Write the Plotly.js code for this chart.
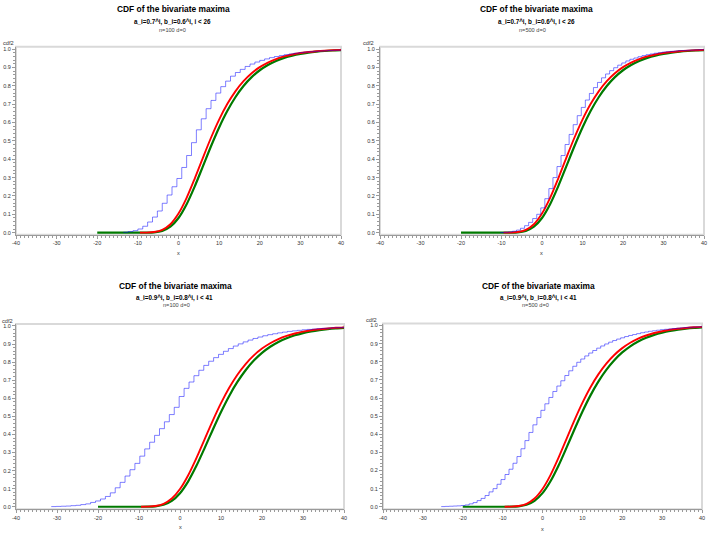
<!DOCTYPE html>
<html>
<head>
<meta charset="utf-8">
<script src="https://cdn.plot.ly/plotly-3.0.1.min.js"></script>
<style>html,body{margin:0;padding:0;background:#fff;}#chart{width:708px;height:533px;}</style>
</head>
<body>
<div id="chart"></div>
<script>
// ---------- data ----------
// top panels: a_i=0.7^i, b_i=0.6^i
const topGreenX = [-20,-18,-16,-14,-12,-10,-8,-6,-4,-2,0,2,4,6,8,10,12,14,16,18,20,22,24,26,28,30,32,34,36,38,40];
const topGreenY = [0,0,0,0,0,0,0.0002,0.0019,0.0099,0.0329,0.080,0.155,0.252,0.361,0.4705,0.5728,0.6623,0.7374,0.7984,0.8467,0.8843,0.9131,0.9349,0.9515,0.9639,0.9732,0.9801,0.9853,0.9891,0.9919,0.9940];
const topRedX = [-9.5,-8,-6,-4,-2,0,2,4,6,8,10,12,14,16,18,20,22,24,26,28,30,32,34,36,38,40];
const topRedY = [0.0001,0.0004,0.0034,0.0153,0.0462,0.1043,0.1898,0.2948,0.4074,0.5168,0.6155,0.7000,0.7694,0.8247,0.8679,0.9011,0.9263,0.9452,0.9594,0.9700,0.9779,0.9837,0.9880,0.9911,0.9935,0.9952];
// n=100 step curve (top left)
const tlBlueX = [-13.6,-12.4,-11.2,-10.0,-8.8,-7.6,-6.4,-5.2,-4.0,-2.8,-1.6,-0.4,0.8,2.0,3.2,4.4,5.6,6.8,8.0,9.2,10.4,11.6,12.8,14.0,15.2,16.4,17.6,18.8,20.0,21.2,22.4,23.6,24.8,26.0,27.2,28.4,29.6,30.8,32.0,33.2,34.4,35.6,36.8,38.0,39.2,40];
const tlBlueY = [0.002,0.006,0.011,0.02,0.035,0.058,0.085,0.118,0.16,0.205,0.25,0.295,0.355,0.42,0.49,0.56,0.62,0.675,0.72,0.76,0.795,0.825,0.852,0.872,0.889,0.905,0.918,0.929,0.938,0.946,0.953,0.959,0.964,0.969,0.973,0.977,0.98,0.983,0.985,0.987,0.989,0.99,0.992,0.993,0.994,0.994];
// n=500 step curve (top right)
const trBlueX = [-10.3,-9.3,-8.3,-7.3,-6.3,-5.3,-4.3,-3.3,-2.3,-1.3,-0.3,0.7,1.7,2.7,3.7,4.7,5.7,6.7,7.7,8.7,9.7,10.7,11.7,12.7,13.7,14.7,15.7,16.7,17.7,18.7,19.7,20.7,21.7,22.7,23.7,24.7,25.7,26.7,27.7,28.7,29.7,30.7,31.7,32.7,33.7,34.7,35.7,36.7,37.7,38.7,39.7,40];
const trBlueY = [0.001,0.002,0.004,0.008,0.014,0.024,0.038,0.056,0.077,0.1,0.135,0.185,0.24,0.3,0.36,0.42,0.48,0.535,0.588,0.637,0.682,0.722,0.758,0.79,0.818,0.843,0.864,0.882,0.898,0.912,0.924,0.935,0.944,0.951,0.958,0.964,0.969,0.973,0.977,0.98,0.983,0.985,0.987,0.989,0.991,0.992,0.993,0.994,0.995,0.996,0.996,0.996];

// bottom panels: a_i=0.9^i, b_i=0.8^i
const botGreenX = [-20,-18,-16,-14,-12,-10,-8,-6,-4,-2,0,2,4,6,8,10,12,14,16,18,20,22,24,26,28,30,32,34,36,38,40];
const botGreenY = [0,0,0,0,0,0.00003,0.0004,0.0026,0.0110,0.0328,0.0751,0.1407,0.2263,0.3246,0.4264,0.5243,0.6132,0.6904,0.7553,0.8086,0.8513,0.8852,0.9117,0.9324,0.9484,0.9607,0.9701,0.9772,0.9827,0.9869,0.9900];
const botRedX = [-9.5,-8,-6,-4,-2,0,2,4,6,8,10,12,14,16,18,20,22,24,26,28,30,32,34,36,38,40];
const botRedY = [0.0001,0.0007,0.0042,0.0164,0.0454,0.0980,0.1745,0.2693,0.3732,0.4767,0.5731,0.6581,0.7302,0.7896,0.8374,0.8751,0.9046,0.9274,0.9449,0.9584,0.9685,0.9763,0.9821,0.9865,0.9899,0.9924];
// n=100 step curve (bottom left)
const blBlueX = [-31.4,-30.2,-29.0,-27.8,-26.6,-25.4,-24.2,-23.0,-21.8,-20.6,-19.4,-18.2,-17.0,-15.8,-14.6,-13.4,-12.2,-11.0,-9.8,-8.6,-7.4,-6.2,-5.0,-3.8,-2.6,-1.4,-0.2,1.0,2.2,3.4,4.6,5.8,7.0,8.2,9.4,10.6,11.8,13.0,14.2,15.4,16.6,17.8,19.0,20.2,21.4,22.6,23.8,25.0,26.2,27.4,28.6,29.8,31.0,32.2,33.4,34.6,35.8,37.0,38.2,39.4,40];
const blBlueY = [0.001,0.002,0.003,0.004,0.006,0.008,0.012,0.016,0.024,0.032,0.043,0.057,0.077,0.105,0.135,0.17,0.205,0.24,0.28,0.32,0.357,0.395,0.432,0.47,0.51,0.55,0.61,0.655,0.69,0.725,0.755,0.782,0.805,0.825,0.843,0.86,0.875,0.889,0.901,0.912,0.922,0.931,0.939,0.946,0.952,0.957,0.962,0.966,0.97,0.973,0.976,0.979,0.981,0.983,0.985,0.987,0.988,0.99,0.991,0.992,0.992];
// n=500 step curve (bottom right)
const brBlueX = [-25.4,-24.4,-23.4,-22.4,-21.4,-20.4,-19.4,-18.4,-17.4,-16.4,-15.4,-14.4,-13.4,-12.4,-11.4,-10.4,-9.4,-8.4,-7.4,-6.4,-5.4,-4.4,-3.4,-2.4,-1.4,-0.4,0.6,1.6,2.6,3.6,4.6,5.6,6.6,7.6,8.6,9.6,10.6,11.6,12.6,13.6,14.6,15.6,16.6,17.6,18.6,19.6,20.6,21.6,22.6,23.6,24.6,25.6,26.6,27.6,28.6,29.6,30.6,31.6,32.6,33.6,34.6,35.6,36.6,37.6,38.6,39.6,40];
const brBlueY = [0.001,0.002,0.003,0.004,0.005,0.007,0.01,0.016,0.023,0.034,0.046,0.062,0.082,0.1,0.124,0.15,0.178,0.207,0.24,0.277,0.32,0.365,0.41,0.452,0.492,0.532,0.568,0.603,0.636,0.666,0.695,0.724,0.75,0.775,0.797,0.815,0.832,0.848,0.862,0.875,0.887,0.898,0.908,0.917,0.925,0.932,0.939,0.945,0.95,0.955,0.96,0.964,0.968,0.971,0.974,0.977,0.979,0.981,0.983,0.985,0.987,0.988,0.99,0.991,0.992,0.993,0.993];

const mainTitle = "CDF of the bivariate maxima";
const subTitles = ["a_i=0.7^i, b_i=0.6^i, i < 26","a_i=0.7^i, b_i=0.6^i, i < 26","a_i=0.9^i, b_i=0.8^i, i < 41","a_i=0.9^i, b_i=0.8^i, i < 41"];
const nLines = ["n=100 d=0","n=500 d=0","n=100 d=0","n=500 d=0"];
const yLabel = "cdf2", xLabel = "x";
const xTicks = [-40,-30,-20,-10,0,10,20,30,40];

// ---------- drawing ----------
const FONT = "Liberation Sans, Arial, sans-serif";
const GREEN = "#007a00", RED = "#ff0000", BLUE = "rgba(0,0,255,0.5)";
const panels = [
  {gx: topGreenX, gy: topGreenY, rx: topRedX, ry: topRedY, bx: tlBlueX, by: tlBlueY},
  {gx: topGreenX, gy: topGreenY, rx: topRedX, ry: topRedY, bx: trBlueX, by: trBlueY},
  {gx: botGreenX, gy: botGreenY, rx: botRedX, ry: botRedY, bx: blBlueX, by: blBlueY},
  {gx: botGreenX, gy: botGreenY, rx: botRedX, ry: botRedY, bx: brBlueX, by: brBlueY}
];
const W = 708, H = 533;
// plot-area pixel boxes [left, right, top, bottom]
const boxes = [[16,341,46.7,234.7],[380,704,46.7,234.7],[16,344,324,509.3],[383,702,323.5,509.3]];
const yRanges = [[-0.011,1.0125],[-0.011,1.0125],[-0.014,1.011],[-0.014,1.011]];
const titlePos = [
  {t:[173.3,9.5], s:[172,22.5], n:[172,29.5], c:[8.3,43.3], x:[178.3,253.3]},
  {t:[536,9.5], s:[536,22.5], n:[532.8,29.5], c:[368,43.3], x:[541.7,253.3]},
  {t:[175.3,285.5], s:[174.7,298], n:[176,305], c:[7.3,320.5], x:[180.7,526.7]},
  {t:[538,285.5], s:[538,298], n:[535.7,305], c:[371.3,320], x:[542.3,529]}
];

const traces = [];
const layout = {
  width: W, height: H, margin: {l:0,r:0,t:0,b:0}, showlegend: false,
  paper_bgcolor: "#fff", plot_bgcolor: "#fff",
  font: {family: FONT, size: 6, color: "#333"},
  annotations: [], shapes: []
};
const fx = p => p / W, fy = p => 1 - p / H;

panels.forEach((p, i) => {
  const k = i === 0 ? "" : String(i + 1);
  const xa = "x" + k, ya = "y" + k;
  traces.push({x: p.gx, y: p.gy, xaxis: xa, yaxis: ya, type: "scatter", mode: "lines",
    line: {color: GREEN, width: 2.2, shape: "spline", smoothing: 0.8}, hoverinfo: "skip"});
  traces.push({x: p.rx, y: p.ry, xaxis: xa, yaxis: ya, type: "scatter", mode: "lines",
    line: {color: RED, width: 1.9, shape: "spline", smoothing: 0.8}, hoverinfo: "skip"});
  traces.push({x: p.bx, y: p.by, xaxis: xa, yaxis: ya, type: "scatter", mode: "lines",
    line: {color: BLUE, width: 1, shape: "hv"}, hoverinfo: "skip"});
  const b = boxes[i];
  layout["xaxis" + k] = {
    domain: [fx(b[0]), fx(b[1])], anchor: ya, range: [-40, 40],
    tickmode: "array", tickvals: xTicks, ticktext: xTicks.map(String),
    ticks: "outside", ticklen: 3, tickwidth: 1, tickcolor: "#9a9a9a",
    showline: true, linecolor: "#9a9a9a", linewidth: 1, showgrid: false, zeroline: false,
    tickfont: {family: FONT, size: 5.5, color: "#333"},
    minor: {ticks: "outside", ticklen: 2, dtick: 1, tick0: 0, tickcolor: "#9a9a9a", showgrid: false},
    fixedrange: true
  };
  layout["yaxis" + k] = {
    domain: [fy(b[3]), fy(b[2])], anchor: xa, range: yRanges[i],
    tick0: 0, dtick: 0.1, tickformat: ".1f",
    ticks: "outside", ticklen: 3, tickwidth: 1, tickcolor: "#9a9a9a",
    showline: true, linecolor: "#9a9a9a", linewidth: 1, showgrid: false, zeroline: false,
    tickfont: {family: FONT, size: 5.5, color: "#333"},
    minor: {ticks: "outside", ticklen: 2, dtick: 0.02, tick0: 0, tickcolor: "#9a9a9a", showgrid: false},
    fixedrange: true
  };
  layout.shapes.push({type: "rect", xref: xa + " domain", yref: ya + " domain", x0: 0, x1: 1, y0: 0, y1: 1,
    line: {color: "#d9d9d9", width: 2}, layer: "below"});
  const tp = titlePos[i];
  const ann = (txt, pos, size, weight, color) => ({
    text: txt, xref: "paper", yref: "paper", x: fx(pos[0]), y: fy(pos[1]),
    xanchor: "center", yanchor: "middle", showarrow: false,
    font: {family: FONT, size: size, weight: weight, color: color}
  });
  layout.annotations.push(ann(mainTitle, tp.t, 8.4, "bold", "#000"));
  layout.annotations.push(ann(subTitles[i], tp.s, 6.3, "bold", "#000"));
  layout.annotations.push(ann(nLines[i], tp.n, 5.6, "normal", "#444"));
  layout.annotations.push(ann(yLabel, tp.c, 5.6, "normal", "#333"));
  layout.annotations.push(ann(xLabel, tp.x, 5.6, "normal", "#333"));
});

Plotly.newPlot("chart", traces, layout, {staticPlot: true, displayModeBar: false});
</script>
</body>
</html>
